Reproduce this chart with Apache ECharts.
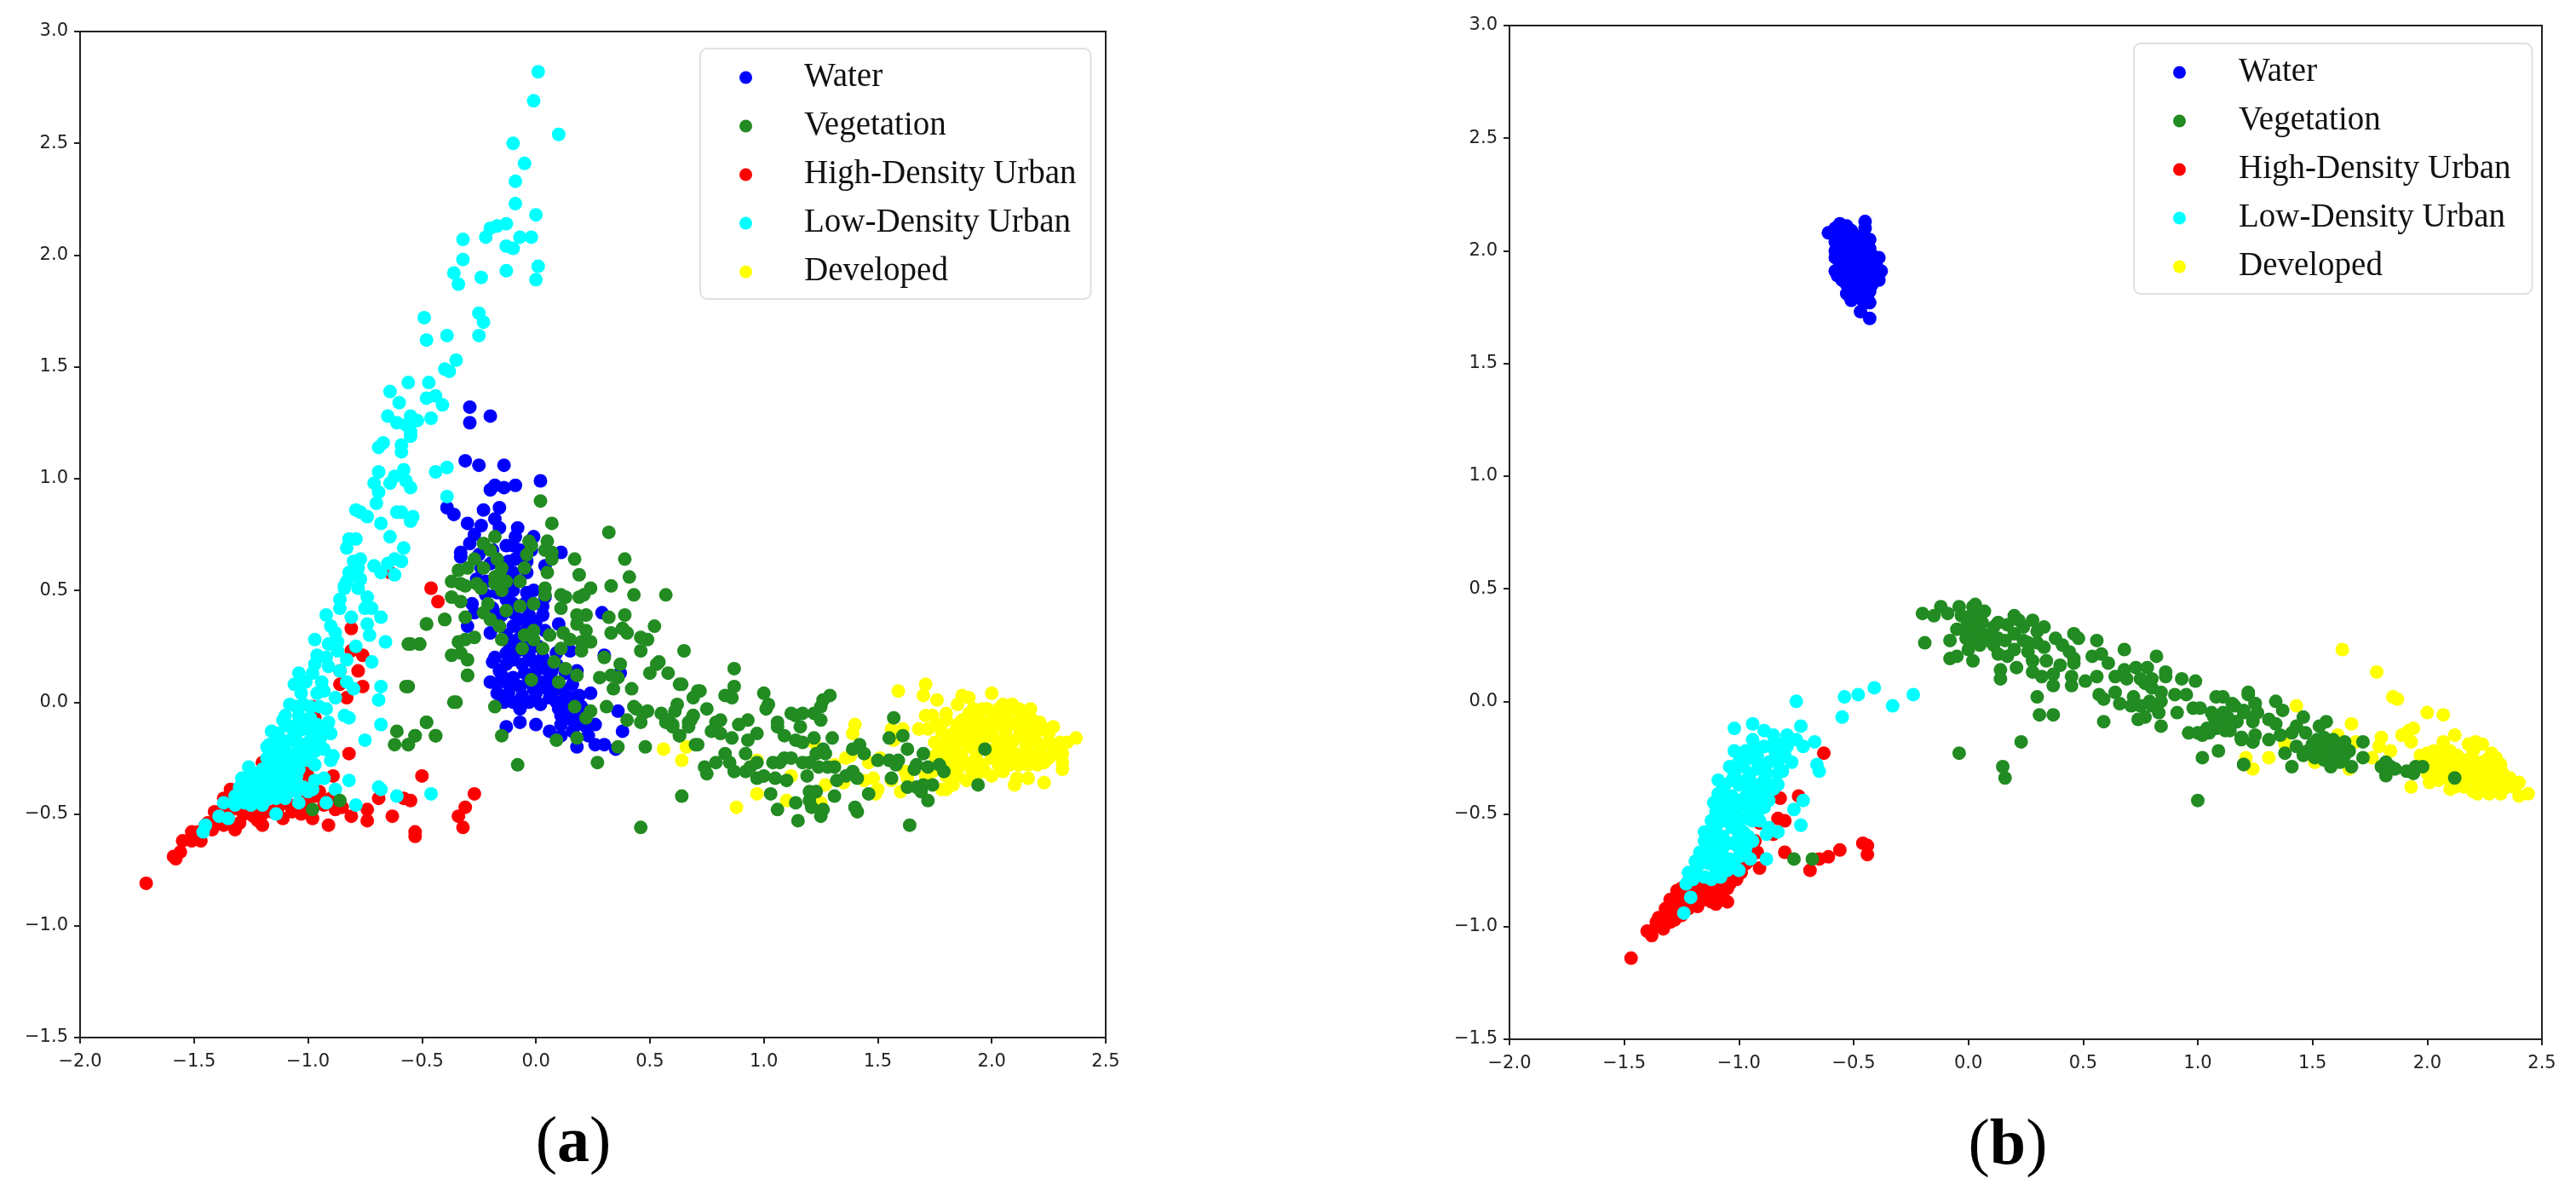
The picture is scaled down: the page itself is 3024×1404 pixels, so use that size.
<!DOCTYPE html>
<html><head><meta charset="utf-8">
<style>html,body{margin:0;padding:0;background:#fff}#c{width:3024px;height:1404px}</style>
<script src="https://cdn.jsdelivr.net/npm/echarts@6/dist/echarts.min.js"></script>
</head><body><div id="c"></div>
<script>
const classNames = ['Water','Vegetation','High-Density Urban','Low-Density Urban','Developed'];
const xTicks = [-2,2.5], yTicks = [-1.5,3];

const waterA = [[-0.29,1.32],[-0.20,1.28],[-0.29,1.25],[-0.31,1.08],[-0.25,1.06],[-0.14,1.06],[0.02,0.99],[-0.20,0.95],[-0.18,0.97],[-0.14,0.96],[-0.09,0.97],[-0.39,0.87],[-0.36,0.84],[-0.30,0.80],[-0.24,0.79],[-0.23,0.86],[-0.16,0.87],[-0.18,0.82],[-0.16,0.78],[-0.08,0.78],[-0.09,0.74],[-0.01,0.74],[-0.27,0.75],[-0.29,0.71],[-0.13,0.70],[-0.10,0.70],[0.11,0.67],[-0.33,0.67],[-0.33,0.65],[-0.09,0.64],[0.04,0.61],[-0.04,0.58],[-0.10,0.58],[-0.26,0.55],[-0.01,0.50],[-0.04,0.49],[0.04,0.47],[-0.28,0.44],[-0.13,0.46],[-0.27,0.40],[0.03,0.39],[0.29,0.40],[-0.30,0.34],[-0.20,0.31],[-0.10,0.40],[-0.03,0.39],[0.10,0.35],[-0.10,0.34],[-0.03,0.34],[0.04,0.32],[0.15,0.23],[-0.12,0.27],[-0.18,0.20],[-0.19,0.18],[-0.13,0.22],[-0.08,0.23],[-0.03,0.21],[0.03,0.20],[-0.13,0.17],[-0.06,0.17],[0.0,0.14],[0.07,0.14],[0.18,0.14],[0.30,0.21],[0.37,0.13],[-0.20,0.09],[-0.15,0.12],[-0.10,0.11],[-0.03,0.09],[0.03,0.09],[0.09,0.09],[0.16,0.08],[-0.17,0.04],[-0.12,0.04],[-0.06,0.03],[0,0.04],[0.06,0.02],[0.13,0.03],[0.19,0.03],[0.24,0.04],[-0.14,0.0],[-0.07,0.0],[0.09,0.0],[0.14,-0.02],[0.20,-0.02],[-0.07,-0.03],[0.11,-0.06],[0.19,-0.06],[0.36,-0.04],[-0.13,-0.11],[-0.07,-0.09],[0,-0.10],[0.06,-0.13],[0.11,-0.10],[0.18,-0.10],[0.26,-0.10],[0.38,-0.13],[0.11,-0.15],[0.18,-0.20],[0.23,-0.15],[0.26,-0.19],[0.30,-0.19],[0.35,-0.21]];
const waterACore = [[-0.16,0.14],[-0.10,0.19],[-0.05,0.13],[-0.01,0.18],[0.04,0.15],[0.09,0.17],[-0.17,0.08],[-0.12,0.08],[-0.07,0.07],[-0.01,0.06],[0.05,0.06],[0.11,0.06],[-0.15,0.02],[-0.10,0.0],[-0.03,0.0],[0.02,-0.01],[0.07,0.04],[0.16,0.02],[0.13,-0.05],[0.16,-0.08],[0.21,-0.05],[-0.08,0.28],[-0.04,0.26],[0.01,0.25],[-0.06,0.31],[-0.13,0.30],[-0.07,0.37],[0.0,0.36],[-0.15,0.39],[-0.19,0.42],[-0.10,0.44],[-0.05,0.44],[0.03,0.43],[-0.22,0.48],[-0.17,0.49],[-0.10,0.50],[-0.22,0.54],[-0.12,0.55],[-0.24,0.60],[-0.20,0.62],[-0.12,0.63],[-0.04,0.63],[-0.25,0.66],[-0.19,0.68],[-0.07,0.68],[-0.02,0.68],[0.09,0.22],[0.13,0.13],[0.06,0.10],[0.14,0.00],[0.10,-0.03],[0.16,-0.13],[0.22,-0.11]];

const vegetationA = [[0.02,0.90],[0.07,0.80],[0.32,0.76],[-0.18,0.74],[-0.03,0.72],[-0.02,0.70],[-0.23,0.71],[0.05,0.72],[0.04,0.68],[0.07,0.67],[-0.20,0.68],[-0.04,0.66],[0.07,0.64],[0.17,0.64],[0.39,0.64],[-0.27,0.64],[-0.17,0.64],[-0.23,0.60],[-0.15,0.60],[-0.05,0.60],[-0.34,0.59],[-0.30,0.60],[0.05,0.58],[0.19,0.57],[0.41,0.56],[-0.18,0.56],[-0.16,0.57],[-0.37,0.54],[-0.07,0.54],[-0.13,0.54],[-0.18,0.53],[-0.33,0.53],[-0.31,0.52],[-0.26,0.53],[-0.24,0.51],[-0.15,0.50],[0.33,0.52],[0.24,0.51],[0.04,0.51],[0.04,0.48],[0.43,0.48],[0.57,0.48],[0.19,0.47],[0.21,0.48],[0.11,0.48],[0.13,0.47],[-0.37,0.47],[-0.33,0.45],[-0.21,0.44],[-0.07,0.43],[-0.01,0.44],[0.11,0.42],[-0.13,0.41],[-0.23,0.40],[0.22,0.39],[0.18,0.39],[0.39,0.39],[-0.31,0.38],[-0.20,0.37],[0.32,0.38],[-0.40,0.37],[-0.48,0.35],[0.18,0.35],[-0.16,0.34],[0.52,0.34],[0.38,0.33],[-0.01,0.32],[0.22,0.32],[0.12,0.31],[0.33,0.31],[0.40,0.31],[-0.05,0.30],[0.06,0.30],[-0.27,0.29],[-0.15,0.28],[-0.31,0.28],[0.15,0.28],[0.46,0.29],[0.49,0.28],[-0.55,0.26],[-0.51,0.26],[-0.34,0.27],[-0.01,0.28],[0.24,0.27],[0.20,0.27],[-0.06,0.24],[0.03,0.24],[0.11,0.24],[0.20,0.23],[0.46,0.23],[0.65,0.23],[-0.37,0.21],[-0.33,0.22],[-0.30,0.19],[0.30,0.20],[0.54,0.18],[0.53,0.17],[0.08,0.18],[0.37,0.17],[0.13,0.15],[0.18,0.12],[0.50,0.13],[0.58,0.13],[-0.30,0.12],[0.28,0.11],[0.33,0.12],[0.36,0.11],[-0.02,0.10],[0.10,0.09],[0.64,0.08],[0.63,0.08],[0.34,0.06],[0.42,0.06],[-0.56,0.07],[0.71,0.05],[0.69,0.02],[-0.36,0.0],[0.62,-0.01],[-0.18,-0.02],[0.17,-0.02],[0.31,-0.02],[0.43,-0.02],[0.49,-0.04],[0.61,-0.04],[0.55,-0.05],[0.24,-0.04],[0.22,-0.07],[0.44,-0.03],[0.47,-0.05],[0.40,-0.08],[0.46,-0.09],[0.69,-0.06],[0.67,-0.09],[0.58,-0.08],[0.60,-0.10],[-0.48,-0.09],[-0.44,-0.15],[-0.53,-0.15],[-0.15,-0.15],[0.63,-0.15],[0.18,-0.16],[0.09,-0.17],[-0.56,-0.19],[0.36,-0.20],[0.48,-0.20],[0.70,-0.19],[-0.08,-0.28],[0.27,-0.27],
[0.87,0.15],[0.87,0.07],[0.83,0.03],[0.86,0.02],[0.72,0.05],[0.75,-0.03],[1.0,0.04],[1.02,-0.01],[1.01,-0.03],[0.69,-0.06],[0.67,-0.11],[0.68,-0.08],[0.57,-0.09],[0.60,-0.11],[0.63,-0.15],[0.81,-0.08],[0.79,-0.09],[0.93,-0.08],[0.89,-0.10],[1.06,-0.09],[1.06,-0.11],[1.12,-0.05],[1.17,-0.05],[1.14,-0.06],[1.29,0.03],[1.26,0.01],[1.25,-0.02],[1.22,-0.05],[1.25,-0.08],[1.16,-0.11],[1.57,-0.07],[0.77,-0.13],[0.81,-0.14],[0.86,-0.16],[0.71,-0.19],[0.97,-0.14],[0.93,-0.17],[1.09,-0.15],[1.14,-0.17],[1.17,-0.18],[1.22,-0.16],[1.30,-0.16],[1.55,-0.16],[1.61,-0.15],[1.42,-0.19],[1.39,-0.21],[1.44,-0.23],[1.26,-0.21],[1.23,-0.23],[1.27,-0.23],[0.92,-0.23],[0.83,-0.23],[1.63,-0.21],[1.97,-0.21],[1.70,-0.23],[1.09,-0.25],[1.12,-0.25],[1.04,-0.27],[1.07,-0.27],[0.97,-0.27],[0.79,-0.27],[0.85,-0.27],[1.17,-0.27],[1.20,-0.27],[1.50,-0.26],[1.59,-0.26],[1.55,-0.26],[0.74,-0.29],[0.75,-0.32],[0.87,-0.31],[0.92,-0.31],[0.94,-0.29],[1.24,-0.29],[1.28,-0.29],[1.31,-0.29],[1.58,-0.28],[1.67,-0.28],[1.66,-0.30],[1.72,-0.29],[1.77,-0.28],[1.79,-0.31],[0.97,-0.34],[1.0,-0.33],[1.05,-0.34],[1.10,-0.35],[1.19,-0.33],[1.39,-0.31],[1.32,-0.35],[1.36,-0.33],[1.41,-0.34],[1.56,-0.34],[1.63,-0.38],[1.67,-0.38],[1.70,-0.37],[1.74,-0.37],[1.69,-0.40],[1.94,-0.37],[0.64,-0.42],[1.03,-0.41],[1.20,-0.40],[1.23,-0.40],[1.31,-0.42],[1.46,-0.41],[1.20,-0.44],[1.14,-0.45],[1.72,-0.44],[1.06,-0.48],[1.21,-0.47],[1.26,-0.48],[1.40,-0.47],[1.41,-0.49],[1.25,-0.51],[1.15,-0.53],[1.64,-0.55],[0.46,-0.56],
[-0.57,0.07],[-0.35,0.0],[-0.48,0.35],[-0.40,0.37],[-0.56,0.26],[-0.51,0.26],[-0.48,-0.09],[-0.61,-0.13],[-0.53,-0.15],[-0.44,-0.15],[-0.62,-0.19],[-0.56,-0.19],[-0.30,0.12],[-0.98,-0.48],[-0.86,-0.44]];

const highDensityA = [[-1.71,-0.81],[-1.58,-0.70],[-1.59,-0.69],[-1.56,-0.67],[-1.55,-0.62],[-1.51,-0.58],[-1.51,-0.62],[-1.47,-0.62],[-1.45,-0.55],[-1.42,-0.57],[-1.44,-0.54],[-1.41,-0.49],[-1.37,-0.55],[-1.32,-0.57],[-1.30,-0.54],[-1.37,-0.43],[-1.34,-0.39],[-1.28,-0.50],[-1.24,-0.51],[-1.20,-0.50],[-1.22,-0.53],[-1.20,-0.55],[-1.21,-0.48],[-1.11,-0.52],[-1.13,-0.47],[-1.08,-0.46],[-1.03,-0.50],[-0.98,-0.52],[-1.02,-0.43],[-0.97,-0.42],[-0.95,-0.40],[-0.91,-0.55],[-0.88,-0.48],[-0.85,-0.47],[-0.81,-0.51],[-0.74,-0.48],[-0.74,-0.53],[-0.69,-0.43],[-0.63,-0.51],[-0.58,-0.43],[-0.55,-0.44],[-0.53,-0.58],[-0.53,-0.60],[-0.34,-0.51],[-0.31,-0.47],[-0.32,-0.56],[-0.27,-0.41],[-0.50,-0.33],[-0.89,-0.33],[-0.82,-0.23],[-1.03,-0.31],[-1.00,-0.33],[-1.01,-0.30],[-1.20,-0.27],[-0.83,0.02],[-0.76,0.07],[-0.78,0.14],[-0.76,0.21],[-0.81,0.33],[-0.46,0.51],[-0.43,0.45],[-0.98,-0.02],[-0.97,-0.07],[-0.86,0.14],[-0.64,0.58],[-0.81,0.23],[-0.86,0.08],[-1.48,-0.58],[-1.40,-0.53],[-1.35,-0.50],[-1.36,-0.47],[-1.30,-0.48],[-1.25,-0.47],[-1.16,-0.49],[-1.07,-0.49],[-1.00,-0.47],[-0.93,-0.46],[-0.90,-0.43]];

const lowDensityA = [[0.01,2.82],[-0.01,2.69],[0.10,2.54],[-0.10,2.50],[-0.05,2.41],[-0.09,2.33],[-0.09,2.23],[0.0,2.18],[-0.13,2.14],[-0.17,2.13],[-0.20,2.12],[-0.22,2.08],[-0.32,2.07],[-0.07,2.08],[-0.02,2.08],[-0.13,2.04],[-0.10,2.03],[-0.32,1.98],[0.01,1.95],[-0.36,1.92],[-0.13,1.93],[-0.24,1.90],[0,1.89],[-0.34,1.87],[-0.25,1.74],[-0.23,1.70],[-0.49,1.72],[-0.39,1.64],[-0.25,1.64],[-0.48,1.62],[-0.35,1.53],[-0.40,1.49],[-0.38,1.48],[-0.56,1.43],[-0.47,1.43],[-0.64,1.39],[-0.44,1.37],[-0.48,1.36],[-0.60,1.34],[-0.41,1.33],[-0.65,1.28],[-0.55,1.28],[-0.52,1.26],[-0.46,1.27],[-0.61,1.25],[-0.57,1.24],[-0.55,1.21],[-0.55,1.19],[-0.67,1.16],[-0.69,1.14],[-0.59,1.15],[-0.59,1.12],[-0.39,1.05],[-0.44,1.03],[-0.69,1.03],[-0.58,1.04],[-0.62,1.01],[-0.64,0.98],[-0.71,0.98],[-0.57,0.99],[-0.55,0.96],[-0.69,0.94],[-0.39,0.92],[-0.70,0.89],[-0.79,0.86],[-0.77,0.85],[-0.61,0.85],[-0.59,0.85],[-0.74,0.83],[-0.68,0.80],[-0.54,0.83],[-0.55,0.81],[-0.64,0.74],[-0.82,0.73],[-0.79,0.73],[-0.83,0.69],[-0.58,0.69],[-0.77,0.64],[-0.62,0.64],[-0.59,0.63],[-0.80,0.63],[-0.71,0.61],[-0.65,0.62],[-0.82,0.58],[-0.68,0.58],[-0.62,0.57],[-0.78,0.56],[-0.84,0.52],
[-0.78,0.60],[-0.83,0.54],[-0.77,0.55],[-0.84,0.51],[-0.78,0.51],[-0.86,0.46],[-0.74,0.47],[-0.75,0.42],[-0.72,0.42],[-0.86,0.42],[-0.92,0.39],[-0.81,0.38],[-0.68,0.38],[-0.74,0.35],[-0.90,0.34],[-0.73,0.30],[-0.88,0.31],[-0.97,0.28],[-0.91,0.26],[-0.87,0.27],[-0.79,0.25],[-0.66,0.27],[-0.87,0.23],[-0.83,0.19],[-0.96,0.21],[-0.72,0.18],[-0.92,0.20],[-0.97,0.17],[-0.91,0.16],[-0.86,0.14],[-1.04,0.13],[-0.98,0.13],[-0.83,0.09],[-1.06,0.08],[-1.01,0.09],[-0.94,0.09],[-0.80,0.06],[-0.68,0.07],[-0.69,0.01],[-0.88,0.02],[-1.03,0.04],[-0.96,0.04],[-0.93,0.05],[-1.08,-0.01],[-1.02,-0.01],[-0.92,-0.03],[-0.84,-0.06],[-0.82,-0.07],[-1.10,-0.06],[-1.04,-0.06],[-0.99,-0.07],[-0.91,-0.09],[-0.68,-0.10],[-1.16,-0.13],[-1.08,-0.11],[-1.02,-0.12],[-0.90,-0.14],[-0.94,-0.15],[-0.75,-0.17],[-1.18,-0.20],[-1.13,-0.16],[-1.08,-0.17],[-1.03,-0.19],[-0.98,-0.19],[-0.93,-0.21],[-0.89,-0.24],[-0.90,-0.26],[-1.18,-0.25],[-1.13,-0.22],[-1.08,-0.24],[-1.03,-0.24],[-1.17,-0.28],[-1.11,-0.28],[-1.26,-0.29],[-0.97,-0.28],[-1.22,-0.32],[-1.17,-0.31],[-1.08,-0.33],[-1.29,-0.34],[-1.24,-0.35],[-1.19,-0.34],[-0.93,-0.34],[-0.82,-0.35],[-0.97,-0.35],[-1.30,-0.38],[-1.26,-0.38],[-1.21,-0.38],[-1.14,-0.36],[-1.08,-0.36],[-1.02,-0.38],[-0.98,-0.39],[-0.88,-0.39],[-0.69,-0.38],[-0.68,-0.39],[-0.61,-0.42],[-0.46,-0.41],[-1.32,-0.42],[-1.27,-0.42],[-1.21,-0.41],[-1.14,-0.41],[-1.08,-0.40],[-1.37,-0.45],[-1.32,-0.46],[-1.28,-0.45],[-1.19,-0.44],[-1.14,-0.43],[-1.04,-0.45],[-0.92,-0.45],[-0.79,-0.46],[-1.39,-0.51],[-1.35,-0.52],[-1.14,-0.50],[-1.45,-0.55],[-1.46,-0.58],[-1.13,-0.26],[-1.06,-0.15],[-1.11,-0.08],[-1.17,-0.19],[-1.06,-0.28],[-1.12,-0.31],[-1.25,-0.40],[-1.28,-0.40]];
const lowDensityACore = [[-1.05,-0.02],[-0.99,-0.02],[-0.95,-0.02],[-1.10,-0.10],[-1.05,-0.10],[-1.00,-0.10],[-0.96,-0.10],[-1.13,-0.14],[-1.05,-0.14],[-0.98,-0.14],[-0.93,-0.14],[-1.15,-0.18],[-1.10,-0.18],[-1.00,-0.18],[-0.95,-0.18],[-1.16,-0.22],[-1.10,-0.22],[-1.05,-0.22],[-1.00,-0.22],[-0.97,-0.22],[-1.16,-0.26],[-1.10,-0.26],[-1.05,-0.26],[-1.00,-0.26],[-1.20,-0.30],[-1.14,-0.30],[-1.08,-0.30],[-1.04,-0.30],[-1.25,-0.33],[-1.15,-0.33],[-1.11,-0.33],[-1.05,-0.33],[-1.27,-0.37],[-1.19,-0.37],[-1.16,-0.37],[-1.10,-0.37],[-1.05,-0.37],[-1.28,-0.40],[-1.23,-0.40],[-1.18,-0.40],[-1.12,-0.40],[-1.05,-0.40],[-1.00,-0.40],[-1.30,-0.43],[-1.24,-0.43],[-1.17,-0.43],[-1.10,-0.43],[-1.25,-0.46],[-1.20,-0.46]];

const developedA = [[0.88,-0.47],[0.97,-0.41],[1.10,-0.44],[0.64,-0.26],[0.66,-0.20],[0.56,-0.21],[1.12,-0.33],[0.97,-0.26],[1.22,-0.18],[1.40,-0.10],[1.39,-0.14],[1.31,-0.28],[1.36,-0.25],[1.38,-0.24],[1.27,-0.37],[1.35,-0.36],[1.25,-0.45],[1.46,-0.27],[1.51,-0.25],[1.48,-0.34],[1.50,-0.39],[1.44,-0.35],[1.49,-0.41],[1.56,-0.12],[1.61,-0.12],[1.57,-0.17],[1.56,-0.35],[1.60,-0.40],[1.62,-0.31],[1.59,0.05],[1.71,0.08],[1.70,0.03],[1.76,0.01],[1.80,-0.05],[1.71,-0.06],[1.74,-0.06],[1.68,-0.12],[1.76,-0.10],[1.72,-0.12],[1.87,0.03],[1.90,0.02],[1.85,-0.01],[2.0,0.04],[2.05,-0.01],[2.09,-0.01],[2.10,-0.03],[1.96,-0.03],[2.17,-0.03],[1.90,-0.05],[1.93,-0.06],[2.01,-0.06],[2.06,-0.06],[2.15,-0.07],[2.21,-0.09],[1.85,-0.10],[1.91,-0.10],[1.97,-0.10],[2.03,-0.10],[2.10,-0.10],[2.17,-0.11],[2.27,-0.11],[2.25,-0.14],[1.81,-0.15],[1.87,-0.15],[1.93,-0.15],[2.0,-0.15],[2.06,-0.15],[2.12,-0.15],[2.18,-0.15],[2.37,-0.16],[2.33,-0.18],[1.77,-0.20],[1.83,-0.20],[1.90,-0.20],[2.02,-0.20],[2.08,-0.20],[2.15,-0.20],[2.21,-0.20],[2.28,-0.19],[2.31,-0.23],[1.75,-0.24],[1.81,-0.25],[1.87,-0.25],[1.93,-0.25],[2.0,-0.25],[2.06,-0.25],[2.12,-0.25],[2.18,-0.25],[2.25,-0.25],[2.31,-0.27],[2.31,-0.30],[2.23,-0.27],[2.20,-0.28],[2.12,-0.28],[1.85,-0.30],[1.91,-0.30],[1.97,-0.31],[2.05,-0.31],[1.89,-0.35],[1.78,-0.39],[1.80,-0.39],[1.83,-0.37],[2.10,-0.37],[2.11,-0.34],[2.16,-0.34],[2.23,-0.36],[1.74,-0.31],[1.63,-0.34],[1.71,-0.33]];
const developedACore = [[1.92,-0.03],[1.98,-0.03],[2.03,-0.03],[2.12,-0.03],[1.80,-0.08],[1.87,-0.08],[1.95,-0.08],[2.0,-0.08],[2.07,-0.08],[2.12,-0.08],[2.18,-0.08],[1.78,-0.13],[1.84,-0.13],[1.89,-0.13],[1.95,-0.13],[2.0,-0.13],[2.06,-0.13],[2.13,-0.13],[2.20,-0.13],[2.25,-0.12],[1.75,-0.18],[1.80,-0.18],[1.85,-0.18],[1.90,-0.18],[1.96,-0.18],[2.03,-0.18],[2.09,-0.18],[2.15,-0.18],[2.20,-0.18],[2.25,-0.18],[2.30,-0.18],[1.78,-0.23],[1.85,-0.23],[1.95,-0.20],[2.0,-0.23],[2.05,-0.23],[2.10,-0.23],[2.16,-0.23],[2.22,-0.23],[2.27,-0.23],[1.79,-0.28],[1.84,-0.28],[1.90,-0.28],[1.96,-0.28],[2.03,-0.28],[2.08,-0.28],[2.16,-0.28],[1.80,-0.33],[1.85,-0.33],[1.93,-0.33],[2.0,-0.33],[1.79,-0.30]];

const waterB = [[-0.45,2.13],[-0.56,2.12],[-0.61,2.08],[-0.58,2.10],[-0.51,2.09],[-0.45,2.10],[-0.43,2.05],[-0.58,2.04],[-0.52,2.05],[-0.58,2.0],[-0.53,2.0],[-0.47,2.0],[-0.43,2.01],[-0.39,1.97],[-0.58,1.97],[-0.52,1.95],[-0.46,1.95],[-0.42,1.95],[-0.58,1.91],[-0.53,1.91],[-0.47,1.91],[-0.38,1.91],[-0.42,1.90],[-0.55,1.87],[-0.50,1.87],[-0.44,1.87],[-0.39,1.87],[-0.53,1.81],[-0.48,1.82],[-0.43,1.82],[-0.51,1.78],[-0.43,1.77],[-0.47,1.73],[-0.43,1.70],[-0.52,1.83],[-0.46,1.78]];
const waterBCore = [[-0.56,2.07],[-0.50,2.07],[-0.46,2.07],[-0.56,2.03],[-0.50,2.03],[-0.46,2.03],[-0.56,1.98],[-0.50,1.98],[-0.45,1.98],[-0.42,1.98],[-0.56,1.93],[-0.50,1.93],[-0.45,1.93],[-0.40,1.93],[-0.57,1.89],[-0.52,1.89],[-0.46,1.89],[-0.41,1.89],[-0.53,1.85],[-0.48,1.85],[-0.44,1.85],[-0.42,1.85],[-0.50,1.84],[-0.46,1.84],[-0.52,1.80],[-0.47,1.80],[-0.44,1.80],[-0.53,2.11],[-0.44,2.02]];

const vegetationB = [[-0.20,0.39],[-0.15,0.38],[-0.12,0.42],[-0.09,0.39],[-0.04,0.42],[0.03,0.43],[0.02,0.42],[0.07,0.40],[-0.03,0.38],[0.01,0.38],[0.05,0.37],[-0.05,0.32],[-0.01,0.33],[0.04,0.33],[0.11,0.33],[0.13,0.35],[0.20,0.38],[0.22,0.36],[0.17,0.34],[0.20,0.30],[0.28,0.36],[0.33,0.33],[0.30,0.31],[-0.19,0.26],[-0.08,0.27],[-0.01,0.28],[0.46,0.30],[0.48,0.28],[0.38,0.28],[0.56,0.27],[0.0,0.23],[0.05,0.25],[0.11,0.25],[0.13,0.28],[0.26,0.26],[0.30,0.26],[0.41,0.25],[0.20,0.23],[0.13,0.21],[0.17,0.20],[0.26,0.22],[0.33,0.24],[0.44,0.22],[0.68,0.23],[0.82,0.20],[0.54,0.20],[0.58,0.21],[-0.08,0.19],[-0.05,0.20],[0.02,0.18],[0.28,0.18],[0.34,0.18],[0.46,0.19],[0.46,0.17],[0.61,0.17],[0.40,0.16],[0.21,0.15],[0.14,0.14],[0.28,0.13],[0.32,0.11],[0.37,0.12],[0.14,0.10],[0.68,0.14],[0.73,0.15],[0.78,0.15],[0.86,0.13],[0.86,0.11],[0.45,0.11],[0.56,0.11],[0.37,0.07],[0.51,0.09],[0.45,0.07],[0.64,0.11],[0.69,0.10],[0.93,0.10],[0.99,0.09],[0.77,0.08],[0.80,0.06],[0.57,0.03],[0.59,0.01],[0.64,0.04],[0.84,0.04],[0.90,0.03],[0.95,0.03],[1.08,0.02],[1.11,0.02],[1.22,0.03],[0.30,0.02],[0.72,0.02],[0.79,0],[0.66,-0.01],[0.71,-0.02],[0.84,0],[0.98,-0.03],[1.01,-0.03],[1.15,-0.01],[1.25,-0.01],[0.91,-0.05],[1.20,-0.04],[0.83,-0.05],[1.06,-0.05],[1.11,-0.05],[0.31,-0.06],[0.37,-0.06],[0.77,-0.07],[0.74,-0.08],[1.17,-0.09],[1.24,-0.08],[1.08,-0.09],[1.13,-0.10],[0.59,-0.09],[0.84,-0.11],[1.04,-0.12],[1.12,-0.13],[1.14,-0.13],[0.96,-0.14],[1.0,-0.14],[1.05,-0.14],[1.02,-0.15],[1.19,-0.16],[1.19,-0.17],[1.24,-0.18],[0.23,-0.18],[1.09,-0.22],[-0.04,-0.23],[1.02,-0.25],[0.15,-0.29],[0.16,-0.34],[1.20,-0.28],[1.0,-0.44],
[1.22,0.04],[1.34,0.0],[1.25,-0.01],[1.16,-0.02],[1.20,-0.05],[1.26,-0.05],[1.37,-0.04],[1.17,-0.09],[1.24,-0.09],[1.31,-0.08],[1.34,-0.10],[1.46,-0.07],[1.56,-0.09],[1.43,-0.11],[1.53,-0.11],[1.19,-0.16],[1.25,-0.15],[1.24,-0.18],[1.31,-0.17],[1.36,-0.15],[1.41,-0.14],[1.47,-0.14],[1.52,-0.17],[1.59,-0.17],[1.64,-0.18],[1.72,-0.18],[1.43,-0.20],[1.48,-0.22],[1.55,-0.20],[1.61,-0.20],[1.66,-0.22],[1.38,-0.23],[1.46,-0.24],[1.51,-0.25],[1.58,-0.24],[1.64,-0.24],[1.72,-0.25],[1.41,-0.29],[1.58,-0.29],[1.62,-0.27],[1.67,-0.29],[1.82,-0.27],[1.80,-0.29],[1.84,-0.29],[1.82,-0.33],[1.86,-0.30],[1.91,-0.31],[1.94,-0.32],[1.95,-0.29],[1.98,-0.29],[2.12,-0.34],[1.20,-0.28],[-0.76,-0.70],[-0.68,-0.70],
[0.02,0.35],[0.06,0.35],[0.0,0.30],[0.06,0.30],[0.10,0.30],[0.03,0.27],[0.09,0.27],[0.16,0.27],[0.24,0.27],[0.24,0.33],[1.50,-0.19],[1.55,-0.19],[1.60,-0.19],[1.52,-0.22],[1.57,-0.22],[1.62,-0.22],[1.55,-0.16],[1.10,-0.10],[1.14,-0.10],[1.13,-0.07],[1.07,-0.07],[1.08,-0.12],[0.80,-0.02],[0.75,-0.02],[0.75,0.10],[0.80,0.10],[1.55,-0.26],[1.51,-0.22]];

const highDensityB = [[-1.47,-1.14],[-1.38,-1.04],[-1.40,-1.02],[-1.36,-1.0],[-1.33,-1.01],[-1.35,-0.96],[-1.31,-0.98],[-1.32,-0.92],[-1.28,-0.97],[-1.30,-0.88],[-1.25,-0.93],[-1.27,-0.84],[-1.22,-0.92],[-1.18,-0.91],[-1.15,-0.88],[-1.12,-0.89],[-1.10,-0.90],[-1.05,-0.89],[-1.07,-0.85],[-1.13,-0.85],[-1.19,-0.85],[-1.04,-0.81],[-1.01,-0.79],[-0.99,-0.76],[-0.91,-0.74],[-0.96,-0.71],[-0.92,-0.67],[-0.98,-0.64],[-0.80,-0.67],[-0.69,-0.75],[-0.65,-0.70],[-0.61,-0.69],[-0.56,-0.66],[-0.46,-0.63],[-0.44,-0.64],[-0.44,-0.68],[-0.63,-0.23],[-0.82,-0.43],[-0.74,-0.42],[-0.83,-0.52],[-0.80,-0.53],[-0.91,-0.54],[-0.85,-0.59],[-0.93,-0.51],
[-1.36,-0.98],[-1.30,-0.98],[-1.32,-0.95],[-1.28,-0.95],[-1.25,-0.95],[-1.29,-0.90],[-1.25,-0.90],[-1.22,-0.90],[-1.18,-0.90],[-1.27,-0.87],[-1.23,-0.87],[-1.20,-0.87],[-1.15,-0.87],[-1.08,-0.87],[-1.25,-0.83],[-1.20,-0.83],[-1.15,-0.83],[-1.10,-0.83],[-1.05,-0.83],[-1.22,-0.80],[-1.17,-0.80],[-1.10,-0.80],[-1.06,-0.80],[-1.05,-0.77],[-1.02,-0.77],[-1.00,-0.72],[-0.97,-0.72],[-0.97,-0.68],[-0.94,-0.68],[-0.96,-0.62],[-0.93,-0.62],[-0.97,-0.60]];

const lowDensityB = [[-0.24,0.03],[-0.41,0.06],[-0.48,0.03],[-0.54,0.02],[-0.33,-0.02],[-0.55,-0.07],[-0.75,0.0],[-0.73,-0.11],[-1.02,-0.12],[-0.94,-0.10],[-0.89,-0.13],[-0.85,-0.15],[-0.79,-0.15],[-0.75,-0.17],[-0.67,-0.18],[-0.72,-0.20],[-1.02,-0.22],[-0.94,-0.17],[-0.97,-0.22],[-0.89,-0.20],[-0.82,-0.19],[-0.77,-0.27],[-0.66,-0.28],[-0.65,-0.31],[-0.81,-0.31],[-0.94,-0.25],[-0.87,-0.27],[-1.04,-0.29],[-0.98,-0.29],[-0.91,-0.30],[-1.09,-0.35],[-1.03,-0.35],[-0.97,-0.35],[-0.89,-0.35],[-0.83,-0.37],[-1.09,-0.41],[-1.03,-0.42],[-0.97,-0.42],[-0.89,-0.42],[-1.11,-0.45],[-1.04,-0.46],[-0.98,-0.46],[-0.89,-0.47],[-0.72,-0.44],[-0.76,-0.48],[-1.10,-0.49],[-1.03,-0.51],[-0.97,-0.52],[-0.73,-0.55],[-1.15,-0.58],[-1.10,-0.57],[-1.03,-0.56],[-0.98,-0.58],[-0.88,-0.59],[-0.83,-0.58],[-0.87,-0.56],[-0.94,-0.62],[-1.15,-0.62],[-1.09,-0.62],[-1.03,-0.63],[-1.17,-0.67],[-1.10,-0.67],[-1.04,-0.70],[-0.97,-0.68],[-0.95,-0.70],[-0.88,-0.70],[-1.19,-0.71],[-1.13,-0.72],[-1.07,-0.73],[-1.02,-0.73],[-1.22,-0.76],[-1.15,-0.78],[-1.08,-0.78],[-1.23,-0.81],[-1.21,-0.87],[-1.24,-0.94]];
const lowDensityBCore = [[-0.93,-0.20],[-0.86,-0.20],[-0.79,-0.20],[-0.98,-0.24],[-0.92,-0.24],[-0.84,-0.24],[-0.80,-0.24],[-1.00,-0.27],[-0.92,-0.27],[-0.83,-0.27],[-1.02,-0.32],[-0.95,-0.32],[-0.88,-0.32],[-0.83,-0.32],[-1.06,-0.37],[-1.00,-0.37],[-0.93,-0.37],[-0.86,-0.37],[-1.07,-0.39],[-0.95,-0.39],[-0.91,-0.39],[-0.85,-0.39],[-1.08,-0.44],[-1.00,-0.44],[-0.93,-0.44],[-0.87,-0.44],[-1.07,-0.48],[-1.01,-0.48],[-0.95,-0.48],[-0.91,-0.48],[-1.12,-0.53],[-1.07,-0.53],[-1.00,-0.53],[-0.94,-0.53],[-0.91,-0.53],[-1.12,-0.60],[-1.07,-0.60],[-1.00,-0.60],[-0.96,-0.60],[-1.14,-0.65],[-1.07,-0.65],[-1.00,-0.65],[-0.97,-0.65],[-1.14,-0.69],[-1.08,-0.69],[-1.00,-0.69],[-1.19,-0.75],[-1.10,-0.75],[-1.05,-0.75],[-1.00,-0.75],[-1.20,-0.79],[-1.12,-0.79],[-1.17,-0.72],[-1.10,-0.72],[-1.05,-0.72]];

const developedB = [[1.63,0.23],[1.78,0.13],[1.85,0.02],[1.87,0.01],[1.43,-0.02],[2.0,-0.05],[2.07,-0.06],[1.67,-0.10],[1.94,-0.12],[1.92,-0.13],[1.89,-0.15],[1.93,-0.18],[2.12,-0.15],[1.80,-0.16],[1.61,-0.15],[2.07,-0.18],[2.18,-0.19],[2.21,-0.18],[2.24,-0.19],[1.79,-0.20],[1.84,-0.22],[2.20,-0.22],[2.28,-0.23],[2.30,-0.25],[2.0,-0.23],[1.97,-0.24],[2.06,-0.23],[2.13,-0.24],[1.76,-0.25],[1.21,-0.25],[1.31,-0.25],[1.24,-0.30],[1.51,-0.27],[2.32,-0.28],[2.24,-0.27],[2.02,-0.29],[2.08,-0.29],[2.14,-0.30],[2.20,-0.30],[2.26,-0.30],[2.35,-0.34],[2.40,-0.36],[2.01,-0.36],[2.05,-0.35],[2.10,-0.39],[2.16,-0.36],[2.20,-0.40],[2.25,-0.37],[2.27,-0.41],[2.32,-0.41],[2.38,-0.38],[2.40,-0.42],[2.44,-0.41],[1.93,-0.38],[2.31,-0.35],[1.38,-0.19],[1.69,-0.18],[1.66,-0.30],[2.06,-0.32],[2.12,-0.32],[2.18,-0.33],[2.24,-0.34],[2.28,-0.36]];
const developedBCore = [[2.03,-0.22],[2.10,-0.22],[1.99,-0.26],[2.04,-0.26],[2.10,-0.26],[2.16,-0.26],[2.20,-0.26],[2.26,-0.26],[2.0,-0.32],[2.05,-0.32],[2.10,-0.32],[2.15,-0.32],[2.22,-0.32],[2.28,-0.32],[2.33,-0.32],[2.02,-0.34],[2.08,-0.34],[2.14,-0.34],[2.20,-0.34],[2.26,-0.34],[2.30,-0.34],[2.36,-0.34],[2.12,-0.38],[2.16,-0.38],[2.22,-0.38],[2.28,-0.38],[2.33,-0.38],[2.35,-0.38],[2.22,-0.41],[1.98,-0.28],[2.06,-0.28],[2.12,-0.28],[2.18,-0.28],[2.28,-0.28]];

const colors = {Water:'#0000ff',Vegetation:'#228b22','High-Density Urban':'#ff0000','Low-Density Urban':'#00ffff',Developed:'#ffff00'};
const fmt = v => (v<0?'\u2212':'')+Math.abs(v).toFixed(1);
const mkGrid = g => ({left:g[0],top:g[1],width:g[2],height:g[3],show:true,borderColor:'#222',borderWidth:2,backgroundColor:'#fff'});
const mkAxis = (type,i,r) => ({type:'value',gridIndex:i,min:r[0],max:r[1],interval:0.5,splitLine:{show:false},
  axisLine:{show:true,onZero:false,lineStyle:{color:'#222',width:2}},axisTick:{show:true,length:7,lineStyle:{color:'#222',width:2}},
  axisLabel:{show:true,formatter:fmt,color:'#222',fontFamily:'DejaVu Sans',fontSize:21,margin:type==='x'?18:14,showMinLabel:true,showMaxLabel:true,hideOverlap:false}});
const mkSeries = (name,data,i) => ({type:'scatter',name,data,xAxisIndex:i,yAxisIndex:i,symbol:'circle',symbolSize:16,itemStyle:{color:colors[name],opacity:1},silent:true,animation:false,clip:false});
const mkLegend = (l,t,w,pr) => ({left:l,top:t,orient:'vertical',data:classNames,selectedMode:false,icon:'circle',itemWidth:w,itemHeight:15,itemGap:17,
  padding:[14,pr,12,46],backgroundColor:'#fff',borderColor:'#e0e0e0',borderWidth:2,borderRadius:8,
  textStyle:{fontFamily:'Liberation Serif',fontSize:39,color:'#111',lineHeight:40}});
const mkTitle = (t,x,y) => ({text:'{p|(}{b|'+t+'}{p|)}',left:x,top:y,textAlign:'center',
  textStyle:{fontWeight:'normal',rich:{p:{fontFamily:'Liberation Serif',fontWeight:'normal',fontSize:76,color:'#000'},b:{fontFamily:'Liberation Serif',fontWeight:'bold',fontSize:76,color:'#000'}}}});

const chart = echarts.init(document.getElementById('c'),null,{renderer:'canvas'});
chart.setOption({
  animation:false,backgroundColor:'#fff',
  title:[mkTitle('a',668,1300),mkTitle('b',2352,1303)],
  grid:[mkGrid([94,37,1204,1181]),mkGrid([1772,30,1212,1190])],
  xAxis:[mkAxis('x',0,xTicks),mkAxis('x',1,xTicks)],
  yAxis:[mkAxis('y',0,yTicks),mkAxis('y',1,yTicks)],
  legend:[mkLegend(822,57,127,17),mkLegend(2505,51,129,25)],
  series:[
    mkSeries('Water',waterA.concat(waterACore),0),mkSeries('High-Density Urban',highDensityA,0),mkSeries('Low-Density Urban',lowDensityA.concat(lowDensityACore),0),mkSeries('Developed',developedA.concat(developedACore),0),mkSeries('Vegetation',vegetationA,0),
    mkSeries('Water',waterB.concat(waterBCore),1),mkSeries('High-Density Urban',highDensityB,1),mkSeries('Low-Density Urban',lowDensityB.concat(lowDensityBCore),1),mkSeries('Developed',developedB.concat(developedBCore),1),mkSeries('Vegetation',vegetationB,1)
  ]
});
</script></body></html>
